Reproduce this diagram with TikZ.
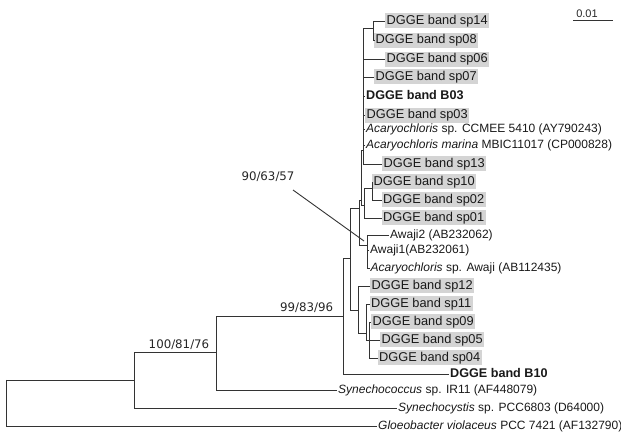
\documentclass[tikz,border=0pt]{standalone}
\usepackage{fontspec}
\setmainfont{Liberation Sans}
\newfontfamily\numfont{DejaVu Sans}
\begin{document}
\begin{tikzpicture}[x=1pt,y=-1pt,
  leaf/.style={anchor=west, inner xsep=1.5pt, inner ysep=0pt, text height=9pt, text depth=2.5pt, font=\fontsize{12}{14}\selectfont, text=black!90},
  hl/.style={leaf, fill=black!17, minimum height=15pt, font=\fontsize{12.8}{14}\selectfont},
  plainleaf/.style={leaf, inner xsep=1pt},
  dgge/.style={plainleaf, font=\fontsize{12.6}{14}\selectfont\bfseries},
  boot/.style={font=\numfont\fontsize{11.8}{14}\selectfont, text=black!85, inner sep=0pt},
  br/.style={line width=0.9pt, draw=black!80}]
\useasboundingbox (0,0) rectangle (621,435);

% internal nodes
\coordinate (R) at (6.7,380);
\coordinate (nA) at (134.3,380);
\coordinate (nB) at (216.7,352.7);
\coordinate (nC) at (343.3,316);
\coordinate (nD) at (350.7,258);
\coordinate (nE) at (359.3,208);
\coordinate (nF) at (361,200);
\coordinate (nG) at (363,150);
\coordinate (nS) at (373.5,28.5);
\coordinate (nH) at (364,205);
\coordinate (nI) at (372,188);
\coordinate (nK) at (367,245);
\coordinate (nL) at (358.3,310);
\coordinate (nM) at (366.7,333);
\coordinate (nN) at (369.3,340);

% leaves
\node[hl] (sp14) at (385,21) {DGGE band sp14};
\node[hl] (sp08) at (374,40.5) {DGGE band sp08};
\node[hl] (sp06) at (385,59.5) {DGGE band sp06};
\node[hl] (sp07) at (374,77) {DGGE band sp07};
\node[dgge] (b03) at (365,96.5) {DGGE band B03};
\node[hl] (sp03) at (365,115.5) {DGGE band sp03};
\node[plainleaf] (ccmee) at (365,129.5) {\itshape Acaryochloris\upshape{} sp. CCMEE 5410 (AY790243)};
\node[plainleaf] (marina) at (365,145.5) {\itshape Acaryochloris marina\upshape{} MBIC11017 (CP000828)};
\node[hl] (sp13) at (382,164) {DGGE band sp13};
\node[hl] (sp10) at (372,182) {DGGE band sp10};
\node[hl] (sp02) at (381.5,200) {DGGE band sp02};
\node[hl] (sp01) at (381.5,218) {DGGE band sp01};
\node[plainleaf] (awaji2) at (389,235) {Awaji2 (AB232062)};
\node[plainleaf] (awaji1) at (369,250.5) {Awaji1(AB232061)};
\node[plainleaf] (acaw) at (369.5,268) {\itshape Acaryochloris\upshape{} sp. Awaji (AB112435)};
\node[hl] (sp12) at (370,286) {DGGE band sp12};
\node[hl] (sp11) at (369.5,304) {DGGE band sp11};
\node[hl] (sp09) at (371,322) {DGGE band sp09};
\node[hl] (sp05) at (380,340) {DGGE band sp05};
\node[hl] (sp04) at (377.5,358) {DGGE band sp04};
\node[dgge] (b10) at (449,374) {DGGE band B10};
\node[plainleaf] (syn1) at (337,390) {\itshape Synechococcus\upshape{} sp. IR11 (AF448079)};
\node[plainleaf] (syn2) at (397,408) {\itshape Synechocystis\upshape{} sp. PCC6803 (D64000)};
\node[plainleaf] (gloeo) at (377,426) {\itshape Gloeobacter violaceus\upshape{} PCC 7421 (AF132790)};

% branches
\draw[br] (R) |- (nA);
\draw[br] (R) |- (gloeo.west);
\draw[br] (nA) |- (nB);
\draw[br] (nA) |- (syn2.west);
\draw[br] (nB) |- (nC);
\draw[br] (nB) |- (syn1.west);
\draw[br] (nC) |- (nD);
\draw[br] (nC) |- (b10.west);
\draw[br] (nD) |- (nE);
\draw[br] (nD) |- (nL);
\draw[br] (nE) |- (nF);
\draw[br] (nE) |- (nK);
\draw[br] (nF) |- (nG);
\draw[br] (nF) |- (nH);
\draw[br] (nG) |- (nS);
\draw[br] (nS) |- (sp14.west);
\draw[br] (nS) |- (sp08.west);
\draw[br] (nG) |- (sp06.west);
\draw[br] (nG) |- (sp07.west);
\draw[br] (nG) |- (b03.west);
\draw[br] (nG) |- (sp03.west);
\draw[br] (nG) |- (ccmee.west);
\draw[br] (nG) |- (marina.west);
\draw[br] (nG) |- (sp13.west);
\draw[br] (nH) |- (nI);
\draw[br] (nH) |- (sp01.west);
\draw[br] (nI) |- (sp10.west);
\draw[br] (nI) |- (sp02.west);
\draw[br] (nK) |- (awaji2.west);
\draw[br] (nK) |- (awaji1.west);
\draw[br] (nK) |- (acaw.west);
\draw[br] (nL) |- (sp12.west);
\draw[br] (nL) |- (nM);
\draw[br] (nM) |- (sp11.west);
\draw[br] (nM) |- (nN);
\draw[br] (nN) |- (sp09.west);
\draw[br] (nN) |- (sp05.west);
\draw[br] (nN) |- (sp04.west);

% bootstrap labels
\node[boot] (bs1) at (179,345) {100/81/76};
\node[boot] (bs2) at (306.7,308) {99/83/96};
\node[boot] (bs3) at (268,177) {90/63/57};
\coordinate (p90) at (293,190);
\coordinate (ptr) at (364,241);
\draw[br] (p90) -- (ptr);

% scale bar
\node[boot, font=\fontsize{11}{13}\selectfont] (scl) at (587,14) {0.01};
\coordinate (s1) at (573,20.7);
\coordinate (s2) at (613,20.7);
\draw[br] (s1) -- (s2);
\end{tikzpicture}
\end{document}
